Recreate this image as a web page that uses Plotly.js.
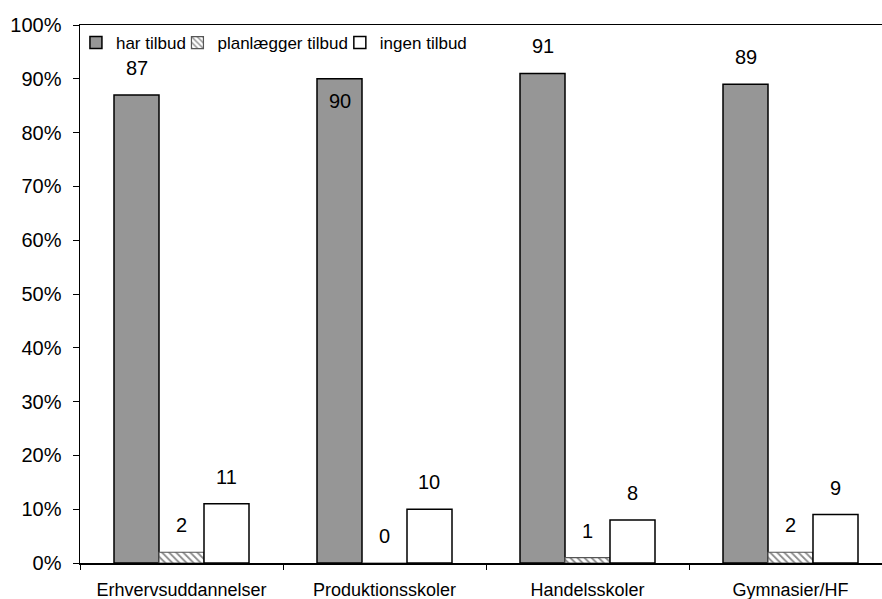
<!DOCTYPE html>
<html>
<head>
<meta charset="utf-8">
<script src="https://cdn.plot.ly/plotly-3.0.1.min.js"></script>
<style>
html,body{margin:0;padding:0;overflow:hidden;background:#fff;width:882px;height:599px;}
#chart{width:900px;height:599px;}
</style>
</head>
<body>
<div id="chart"></div>
<script>
const categories = ["Erhvervsuddannelser", "Produktionsskoler", "Handelsskoler", "Gymnasier/HF"];
const seriesNames = ["har tilbud", "planlægger tilbud", "ingen tilbud"];
const harTilbud = [87, 90, 91, 89];
const planlaeggerTilbud = [2, 0, 1, 2];
const ingenTilbud = [11, 10, 8, 9];
const yTicks = [0,10,20,30,40,50,60,70,80,90,100];

const FONT = "Liberation Sans, Arial, sans-serif";
const W = 900, H = 599;
const margin = {l: 80, r: 8, t: 25, b: 36};
const bargap = 0.335;
const series = [harTilbud, planlaeggerTilbud, ingenTilbud];

const legendFont = {family:FONT, size:17, color:'#000'};
function legendAt(x) {
  return {orientation:'h', x:x, y:1.0, xanchor:'left', yanchor:'top',
          font:legendFont, bgcolor:'rgba(0,0,0,0)', itemwidth:30};
}

const traces = [
  {type:'bar', name:seriesNames[0], x:categories, y:harTilbud, legend:'legend',
   marker:{color:'#969696', line:{color:'#000', width:1.5}}, hoverinfo:'skip'},
  {type:'bar', name:seriesNames[1], x:categories, y:planlaeggerTilbud, legend:'legend2',
   marker:{color:'#fff', line:{color:'#555', width:1.2},
           pattern:{shape:'\\', fgcolor:'#8a8a8a', bgcolor:'#fff', size:5, solidity:0.35}}, hoverinfo:'skip'},
  {type:'bar', name:seriesNames[2], x:categories, y:ingenTilbud, legend:'legend3',
   marker:{color:'#fff', line:{color:'#000', width:1.5}}, hoverinfo:'skip'}
];

// bar geometry derived from layout for label placement
const plotW = W - margin.l - margin.r;
const catPx = plotW / categories.length;
const barPx = catPx * (1 - bargap) / series.length;

const annotations = [];
series.forEach((vals, i) => {
  vals.forEach((v, j) => {
    const inside = (i === 0 && j === 1);
    annotations.push({
      x: categories[j], y: v, xref:'x', yref:'y',
      text: String(v), showarrow:false,
      xshift: (i - (series.length - 1) / 2) * barPx,
      yanchor: inside ? 'top' : 'bottom',
      yshift: inside ? -9 : 14,
      font:{family:FONT, size:20, color:'#000'}
    });
  });
});

const layout = {
  width: W, height: H, margin: margin,
  paper_bgcolor:'#fff', plot_bgcolor:'#fff',
  barmode:'group', bargap: bargap, bargroupgap: 0,
  showlegend:true,
  legend: legendAt(-0.005),
  legend2: legendAt(0.120),
  legend3: legendAt(0.320),
  xaxis:{type:'category', showline:true, linecolor:'#000', linewidth:1.5, mirror:true,
         ticks:'outside', tickson:'boundaries', ticklen:5, tickcolor:'#000', tickwidth:1,
         showgrid:false, zeroline:false, ticklabelstandoff:10,
         tickfont:{family:FONT, size:18, color:'#000'}},
  yaxis:{range:[0,100], tickvals:yTicks, ticktext:yTicks.map(t=>t+'%'),
         showline:true, linecolor:'#000', linewidth:1.5,
         ticks:'outside', ticklen:6, tickcolor:'#000', tickwidth:1,
         showgrid:false, zeroline:false, ticklabelstandoff:7,
         tickfont:{family:FONT, size:20, color:'#000'}},
  annotations: annotations
};

Plotly.newPlot('chart', traces, layout, {displayModeBar:false, staticPlot:true});
</script>
</body>
</html>
